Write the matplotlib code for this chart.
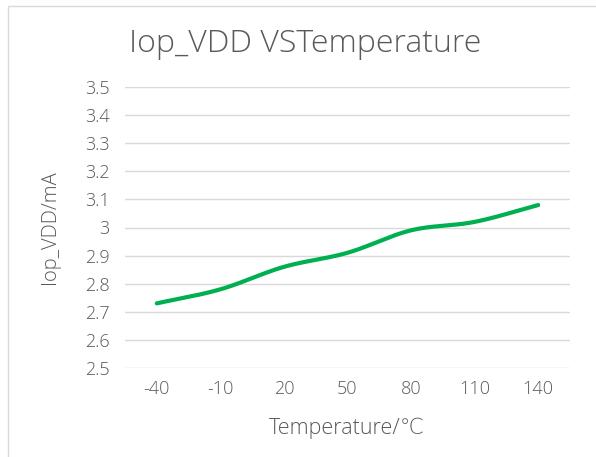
import matplotlib
matplotlib.use("Agg")
import matplotlib.pyplot as plt
import numpy as np
from matplotlib.patches import Rectangle

# data
temps = ["-40", "-10", "20", "50", "80", "110", "140"]
iop_vdd = [2.73, 2.78, 2.86, 2.91, 2.99, 3.02, 3.08]
y_ticks = [2.5, 2.6, 2.7, 2.8, 2.9, 3.0, 3.1, 3.2, 3.3, 3.4, 3.5]
y_tick_labels = ["2.5", "2.6", "2.7", "2.8", "2.9", "3", "3.1", "3.2", "3.3", "3.4", "3.5"]

plt.rcParams['font.family'] = ['Open Sans', 'DejaVu Sans']
plt.rcParams['font.weight'] = 'light'
plt.rcParams['axes.labelweight'] = 'light'
grey = "#595959"
green = "#00B050"


def smooth(x, y, n=30):
    "catmull-rom style smoothing, roughly what excel does for smoothed lines"
    x = np.asarray(x, float)
    y = np.asarray(y, float)
    px = np.concatenate([[2*x[0] - x[1]], x, [2*x[-1] - x[-2]]])
    py = np.concatenate([[2*y[0] - y[1]], y, [2*y[-1] - y[-2]]])
    xs, ys = [], []
    t = np.linspace(0, 1, n)[:, None]
    for i in range(1, len(px) - 2):
        P = np.array([[px[i-1], py[i-1]], [px[i], py[i]], [px[i+1], py[i+1]], [px[i+2], py[i+2]]])
        c = 0.5 * ((2*P[1]) + (-P[0] + P[2])*t + (2*P[0] - 5*P[1] + 4*P[2] - P[3])*t**2
                   + (-P[0] + 3*P[1] - 3*P[2] + P[3])*t**3)
        xs.append(c[:, 0]); ys.append(c[:, 1])
    return np.concatenate(xs), np.concatenate(ys)


fig = plt.figure(figsize=(5.96, 4.57), dpi=100)
fig.patches.append(Rectangle((8/596, -0.1), 1.2, 1 - 6/457 + 0.1, transform=fig.transFigure,
                             fill=False, edgecolor="#D9D9D9", linewidth=1.0))

ax = fig.add_axes([125/596, 1 - 368/457, 445/596, 281/457])
xpos = np.arange(len(temps))
sx, sy = smooth(xpos, iop_vdd)
ax.plot(sx, sy, color=green, linewidth=3, solid_capstyle="round", zorder=3)

ax.set_xlim(-0.5, len(temps) - 0.5)
ax.set_ylim(2.5, 3.5)
ax.set_yticks(y_ticks)
ax.set_yticklabels(y_tick_labels)
ax.set_xticks(xpos)
ax.set_xticklabels(temps)
ax.tick_params(length=0, labelsize=13, labelcolor=grey)
ax.tick_params(axis="y", pad=11)
ax.tick_params(axis="x", pad=9)
ax.grid(axis="y", color="#D9D9D9", linewidth=1.0)
for s in ax.spines.values():
    s.set_visible(False)

ax.set_ylabel("Iop_VDD/mA", fontsize=14.5, color=grey)
ax.yaxis.set_label_coords((60 - 125) / 445, 0.5)
ax.set_xlabel("Temperature/℃", fontsize=15.5, color=grey)
ax.xaxis.set_label_coords((347 - 125) / 445, -(418 - 368) / 281)
fig.text(305/596, 1 - 44/457, "Iop_VDD VSTemperature", fontsize=23, color=grey,
         ha="center", va="center")

fig.savefig("out.png", dpi=100)
